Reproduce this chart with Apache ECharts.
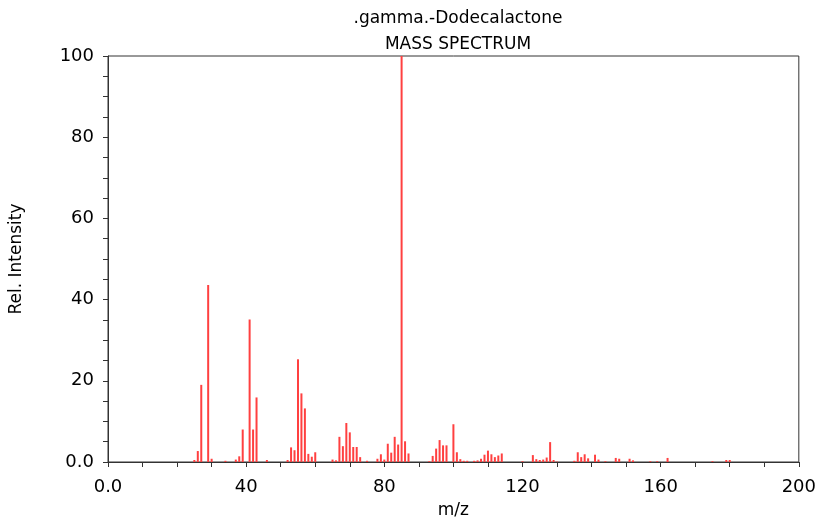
<!DOCTYPE html>
<html>
<head>
<meta charset="utf-8">
<script src="https://cdn.jsdelivr.net/npm/echarts@6/dist/echarts.min.js"></script>
<style>
html,body{margin:0;padding:0;background:#fff;}
#chart{width:819px;height:524px;}
</style>
</head>
<body>
<div id="chart"></div>
<script>
var titleText = '.gamma.-Dodecalactone';
var subtitleText = 'MASS SPECTRUM';
var xName = 'm/z';
var yName = 'Rel. Intensity';
var mz = [25,26,27,29,30,34,37,38,39,41,42,43,46,52,53,54,55,56,57,58,59,60,65,66,67,68,69,70,71,72,73,75,78,79,80,81,82,83,84,85,86,87,93,94,95,96,97,98,100,101,102,103,104,106,107,108,109,110,111,112,113,114,120,123,124,125,126,127,128,129,130,135,136,137,138,139,141,142,144,147,148,151,152,157,159,162,175,179,180];
var intensity = [0.5,2.7,19,43.6,0.8,0.3,0.6,1.4,8.0,35.1,8.0,15.9,0.5,0.5,3.6,2.9,25.3,16.9,13.2,2.0,1.3,2.4,0.6,0.4,6.2,3.9,9.6,7.3,3.7,3.7,1.2,0.3,0.8,1.9,0.6,4.5,2.3,6.2,4.3,100,5.1,2.1,0.2,1.5,3.3,5.4,4.1,4.1,9.3,2.4,0.7,0.3,0.3,0.3,0.4,0.8,1.8,2.8,1.9,1.2,1.6,2.1,0.2,1.7,0.7,0.5,0.6,1.1,4.9,0.5,0.1,0.3,2.4,1.2,1.9,0.9,1.8,0.6,0.2,1.0,0.8,0.8,0.4,0.2,0.2,1.0,0.2,0.5,0.5];

var chart = echarts.init(document.getElementById('chart'), null, {renderer:'canvas'});
var font = 'DejaVu Sans';
var data = mz.map(function(m,i){return [m,intensity[i]];});
chart.setOption({
  animation:false,
  backgroundColor:'#fff',
  title:[
    {text:titleText, left:453, top:5, textAlign:'center',
     textStyle:{fontFamily:font,fontSize:17,fontWeight:'normal',color:'#000'}},
    {text:subtitleText, left:453, top:31, textAlign:'center',
     textStyle:{fontFamily:font,fontSize:17,fontWeight:'normal',color:'#000'}}
  ],
  grid:{left:107,right:20,top:56,bottom:58,show:true,borderColor:'#333',borderWidth:1,backgroundColor:'transparent'},
  xAxis:{
    type:'value',min:0,max:200,interval:10,
    name:xName,nameLocation:'middle',nameGap:40,
    nameTextStyle:{fontFamily:font,fontSize:17,color:'#000'},
    axisLine:{show:true,lineStyle:{color:'#333',width:1}},
    axisTick:{show:true,length:5,inside:false,lineStyle:{color:'#333'}},
    splitLine:{show:false},
    axisLabel:{fontFamily:font,fontSize:18,color:'#000',margin:16,
      formatter:function(v){ if(v===0) return '0.0'; return (v%40===0)?String(v):''; }}
  },
  yAxis:{
    type:'value',min:0,max:100,interval:5,
    name:yName,nameLocation:'middle',nameGap:83,
    nameTextStyle:{fontFamily:font,fontSize:17,color:'#000'},
    axisLine:{show:true,lineStyle:{color:'#333',width:1}},
    axisTick:{show:true,length:5,lineStyle:{color:'#333'}},
    splitLine:{show:false},
    axisLabel:{fontFamily:font,fontSize:18,color:'#000',margin:14,
      formatter:function(v){ if(v===0) return '0.0'; return (v%20===0)?String(v):''; }}
  },
  series:[{
    type:'bar',data:data,barWidth:2,
    itemStyle:{color:'#ff4040'},
    emphasis:{disabled:true}
  }]
});
</script>
</body>
</html>
